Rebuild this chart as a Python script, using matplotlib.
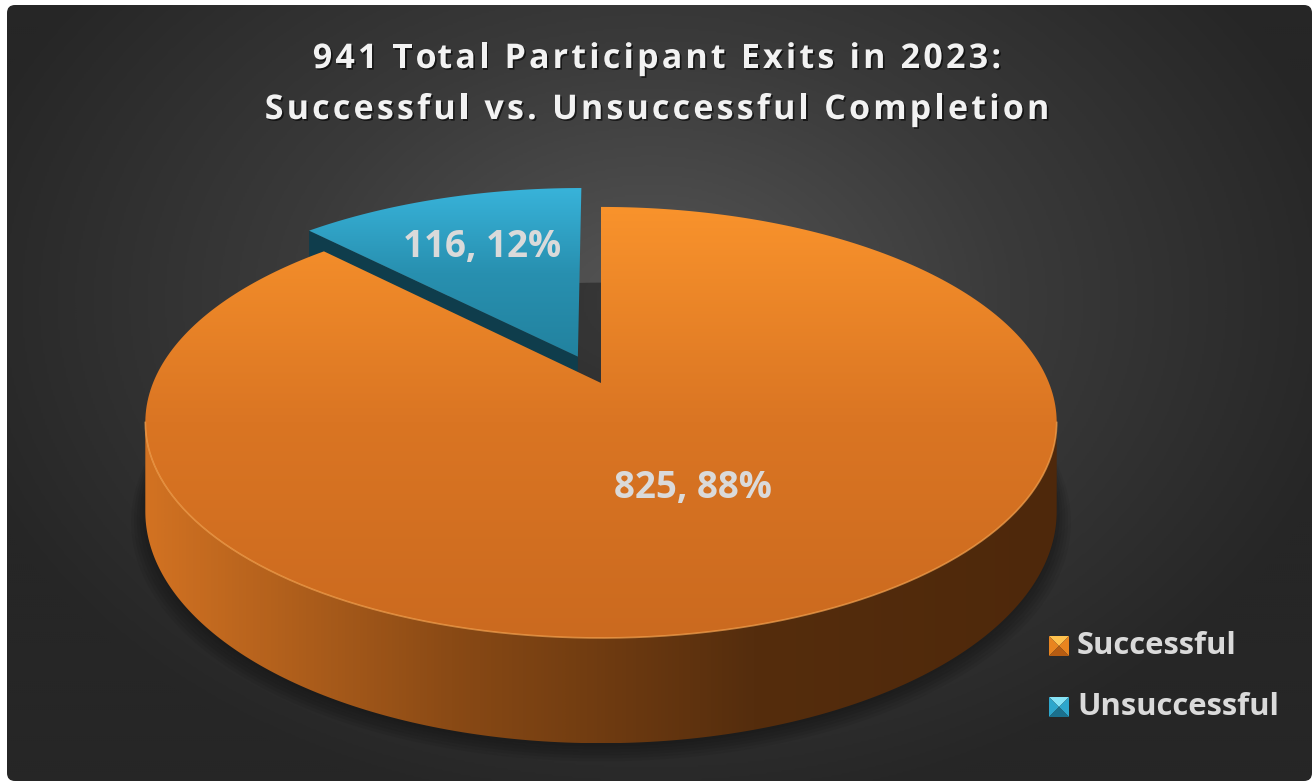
import numpy as np
import matplotlib
matplotlib.use('Agg')
import matplotlib.pyplot as plt
from matplotlib.patches import Polygon, FancyBboxPatch
from matplotlib.colors import LinearSegmentedColormap
import matplotlib.patheffects as pe

# data
labels = ['Successful', 'Unsuccessful']
values = [825, 116]
title_lines = ['941 Total Participant Exits in 2023:',
               'Successful vs. Unsuccessful Completion']

# look of each slice
top_cols = [['#F9932C', '#DA7523', '#CB6A1F'], ['#38B3DA', '#2890B0', '#22829F']]
side_cols = [['#D27222', '#8A4A15', '#552D0D', '#4E280B'], ['#0F3D4C', '#0F3D4C']]
bevel_cols = [['#FFC24E', '#E8841F', '#B65C12'], ['#86E3F6', '#2DA6CC', '#1B708D']]
explode = [0.0, 0.14]
label_r = [0.5, 0.66]

W, H = 1312, 781
cx, cy = 601, 383
rx, ry = 448, 208.3
persp = 0.183
depth = 86
txt_col = '#DADADA'
FONT = 'Open Sans'

fig = plt.figure(figsize=(W / 100, H / 100), dpi=100)
fig.patch.set_facecolor('white')
ax = fig.add_axes([0, 0, 1, 1])
ax.set_xlim(0, W)
ax.set_ylim(H, 0)
ax.axis('off')


def proj(X, Z, h=0.0):
    w = 1 + persp * Z
    return cx + rx * X / w, cy - ry * Z / w + h * depth / w


def grad_fill(verts, cols, horiz=False, z=1):
    verts = np.asarray(verts)
    poly = Polygon(verts, closed=True, fc='none', ec='none')
    ax.add_patch(poly)
    x0, y0 = verts.min(0)
    x1, y1 = verts.max(0)
    g = np.linspace(0, 1, 256)
    arr = g[None, :] if horiz else g[:, None]
    cmap = LinearSegmentedColormap.from_list('g', cols)
    im = ax.imshow(arr, cmap=cmap, extent=(x0, x1, y1, y0), aspect='auto',
                   zorder=z, interpolation='bilinear')
    im.set_clip_path(poly)


# background with radial shading
bg = FancyBboxPatch((7, 5), W - 7, H - 5, boxstyle='round,pad=0,rounding_size=8',
                    fc='none', ec='none')
ax.add_patch(bg)
yy, xx = np.mgrid[0:H:2, 0:W:2]
d = np.sqrt(((xx - 650) / 720.0) ** 2 + ((yy - 300) / 520.0) ** 2)
d = np.clip(d, 0, 1)
bgmap = LinearSegmentedColormap.from_list('bg', ['#555555', '#3a3a3a', '#262626'])
im = ax.imshow(d, cmap=bgmap, extent=(0, W, H, 0), aspect='auto', zorder=0,
               vmin=0, vmax=1, interpolation='bilinear')
im.set_clip_path(bg)

# soft shadow under the pie
t = np.linspace(0, 2 * np.pi, 300)
for k in range(6):
    sx, sy = proj(np.cos(t) * (1.0 + 0.006 * k), np.sin(t) * (1.0 + 0.006 * k), 1.0)
    ax.fill(sx, sy + 3 + k, color='black', alpha=0.06, zorder=1, lw=0)

# slices
fr = np.array(values) / sum(values)
ends = 90 - 360 * np.cumsum(fr)
starts = ends + 360 * fr
mids = (starts + ends) / 2
sil = np.degrees(np.arcsin(persp))

order = np.argsort(-np.sin(np.radians(mids)))
for n, i in enumerate(order):
    a, b = ends[i], starts[i]
    m = np.radians(mids[i])
    ex, ez = explode[i] * np.cos(m), explode[i] * np.sin(m)
    z = 2 + 3 * n

    # outer wall, front part only
    for k in (-1, 0, 1):
        lo = max(a, 180 + sil + 360 * k)
        hi = min(b, 360 - sil + 360 * k)
        if lo < hi:
            th = np.radians(np.linspace(lo, hi, 200))
            tx, ty = proj(ex + np.cos(th), ez + np.sin(th), 0)
            bx, by = proj(ex + np.cos(th), ez + np.sin(th), 1)
            verts = np.vstack([np.c_[tx, ty], np.c_[bx, by][::-1]])
            grad_fill(verts, side_cols[i], horiz=True, z=z)
            ax.plot(tx, ty, color='#F7A450', lw=1.2, alpha=0.7, zorder=z + 2)

    # cut faces
    for ang, nrm in ((a, a - 90), (b, b + 90)):
        if np.sin(np.radians(nrm)) < -0.05:
            r = np.radians(ang)
            p = [proj(ex, ez, 0), proj(ex + np.cos(r), ez + np.sin(r), 0),
                 proj(ex + np.cos(r), ez + np.sin(r), 1), proj(ex, ez, 1)]
            ax.add_patch(Polygon(p, closed=True, fc=side_cols[i][0], ec='none', zorder=z))

    # top face
    th = np.radians(np.linspace(a, b, 300))
    tx, ty = proj(ex + np.cos(th), ez + np.sin(th), 0)
    c = proj(ex, ez, 0)
    verts = np.vstack([[c], np.c_[tx, ty]])
    grad_fill(verts, top_cols[i], z=z + 1)

    # value label
    lx, ly = proj(ex + label_r[i] * np.cos(m), ez + label_r[i] * np.sin(m), 0)
    ax.text(lx, ly, f'{values[i]}, {fr[i] * 100:.0f}%', ha='center', va='center',
            fontsize=26.5, fontweight='bold', family=FONT, color=txt_col, zorder=20)

# title with letter spacing
renderer = fig.canvas.get_renderer()
tkw = dict(fontsize=24.5, fontweight='bold', family=FONT, color='#F2F2F2')


def text_w(s):
    tt = ax.text(0, 0, s + 'H', **tkw)
    w1 = tt.get_window_extent(renderer).width
    tt.set_text('H')
    w2 = tt.get_window_extent(renderer).width
    tt.remove()
    return w1 - w2


shadow = [pe.withSimplePatchShadow(offset=(1.2, -1.2), shadow_rgbFace='black', alpha=0.6)]
spacing = 3.2
for line, yb in zip(title_lines, [68, 119]):
    pos = [text_w(line[:j]) + j * spacing for j in range(len(line))]
    total = text_w(line) + (len(line) - 1) * spacing
    x0 = 657 - total / 2
    for ch, p in zip(line, pos):
        if ch != ' ':
            ax.text(x0 + p, yb, ch, ha='left', va='baseline', zorder=20,
                    path_effects=shadow, **tkw)

# legend
for i, lab in enumerate(labels):
    y = 646 + 61 * i
    x0, x1, y0, y1 = 1049, 1069, y - 10, y + 10
    xm, ym = (x0 + x1) / 2, (y0 + y1) / 2
    tri_top = [(x0, y0), (x1, y0), (xm, ym)]
    tri_l = [(x0, y0), (x0, y1), (xm, ym)]
    tri_r = [(x1, y0), (x1, y1), (xm, ym)]
    tri_b = [(x0, y1), (x1, y1), (xm, ym)]
    for tri, col in ((tri_top, bevel_cols[i][0]), (tri_l, bevel_cols[i][1]),
                     (tri_r, bevel_cols[i][1]), (tri_b, bevel_cols[i][2])):
        ax.add_patch(Polygon(tri, closed=True, fc=col, ec='none', zorder=20))
    ax.text(1077, y, lab, ha='left', va='center', fontsize=22.3, fontweight='bold',
            family=FONT, color=txt_col, zorder=20)

ax.set_xlim(0, W)
ax.set_ylim(H, 0)
fig.savefig('out.png', dpi=100, facecolor=fig.get_facecolor())
